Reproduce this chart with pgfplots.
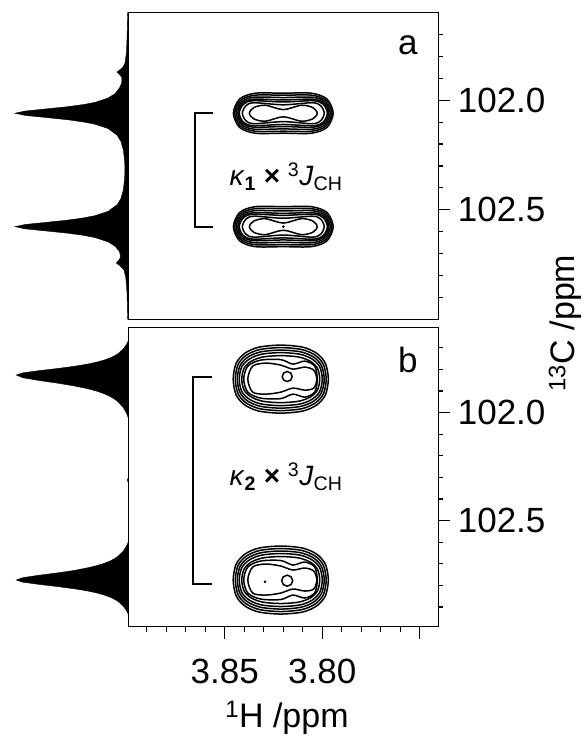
\documentclass[border=0pt]{standalone}
\usepackage{fontspec}
\setmainfont{Liberation Sans}
\usepackage{pgfplots}
\usepackage{pgfplotstable}
\pgfplotsset{compat=1.18}

\newcommand\tsz{\fontsize{35}{40}\selectfont}
\newcommand\lsz{\fontsize{34}{38}\selectfont}
\newcommand\asz{\fontsize{28}{32}\selectfont}

% ---------- 1D projections (intensity, ppm) ----------
\pgfplotstableread{
f y
0 101.6
0.006 101.60
0.010 101.70
0.016 101.78
0.029 101.83
0.048 101.85
0.075 101.861
0.100 101.871
0.081 101.881
0.058 101.895
0.056 101.915
0.073 101.94
0.117 101.97
0.180 101.99
0.291 102.009
0.390 102.019
0.532 102.029
0.719 102.039
0.911 102.049
1.000 102.059
0.911 102.069
0.719 102.079
0.532 102.089
0.395 102.099
0.296 102.109
0.178 102.129
0.099 102.159
0.064 102.189
0.043 102.229
0.032 102.28
0.030 102.318
0.0325 102.36
0.044 102.41
0.066 102.45
0.099 102.477
0.178 102.507
0.296 102.527
0.395 102.537
0.532 102.547
0.719 102.557
0.911 102.567
1.000 102.577
0.911 102.587
0.719 102.597
0.532 102.607
0.391 102.617
0.292 102.627
0.175 102.647
0.115 102.667
0.079 102.69
0.067 102.713
0.082 102.73
0.106 102.743
0.074 102.755
0.038 102.775
0.022 102.81
0.011 102.88
0.006 103.0
0 103.0
}\PRa

\pgfplotstableread{
f y
0 101.607
0 101.66
0.003 101.671
0.018 101.686
0.046 101.706
0.089 101.726
0.120 101.736
0.159 101.746
0.211 101.756
0.279 101.766
0.369 101.776
0.488 101.786
0.635 101.796
0.800 101.806
0.942 101.816
1.000 101.826
0.942 101.8385
0.800 101.851
0.635 101.8635
0.488 101.876
0.369 101.8885
0.279 101.901
0.211 101.9135
0.159 101.926
0.120 101.9385
0.089 101.951
0.046 101.976
0.018 102.001
0.003 102.020
0 102.03
0 102.30
0.008 102.312
0 102.325
0 102.59
0.003 102.603
0.018 102.619
0.046 102.642
0.089 102.664
0.120 102.675
0.159 102.686
0.211 102.697
0.279 102.708
0.369 102.719
0.488 102.731
0.635 102.742
0.800 102.753
0.942 102.764
1.000 102.775
0.942 102.785
0.800 102.795
0.635 102.805
0.488 102.815
0.369 102.825
0.279 102.835
0.211 102.845
0.159 102.855
0.120 102.865
0.089 102.875
0.046 102.895
0.018 102.915
0.003 102.93
0 102.94
0 102.991
}\PRb

% ---------- contour levels, panel a (offsets from peak centre, ppm) ----------
\pgfplotstableread{
dx dy
0.0256 0
0.0224 -0.0648
0.0144 -0.0913
0 -0.0913
-0.0144 -0.0913
-0.0224 -0.0648
-0.0256 0
-0.0224 0.0648
-0.0144 0.0913
0 0.0913
0.0144 0.0913
0.0224 0.0648
}\CAa
\pgfplotstableread{
dx dy
0.0249 0
0.0219 -0.0584
0.0146 -0.0822
0 -0.0822
-0.0146 -0.0822
-0.0219 -0.0584
-0.0249 0
-0.0219 0.0584
-0.0146 0.0822
0 0.0822
0.0146 0.0822
0.0219 0.0584
}\CAb
\pgfplotstableread{
dx dy
0.0241 0
0.0214 -0.0519
0.0149 -0.0731
0 -0.0716
-0.0149 -0.0731
-0.0214 -0.0519
-0.0241 0
-0.0214 0.0519
-0.0149 0.0731
0 0.0716
0.0149 0.0731
0.0214 0.0519
}\CAc
\pgfplotstableread{
dx dy
0.0233 0
0.0210 -0.0454
0.0151 -0.0639
0 -0.0607
-0.0151 -0.0639
-0.0210 -0.0454
-0.0233 0
-0.0210 0.0454
-0.0151 0.0639
0 0.0607
0.0151 0.0639
0.0210 0.0454
}\CAd
\pgfplotstableread{
dx dy
0.0226 0
0.0205 -0.0405
0.0154 -0.0571
0 -0.0514
-0.0154 -0.0571
-0.0205 -0.0405
-0.0226 0
-0.0205 0.0405
-0.0154 0.0571
0 0.0514
0.0154 0.0571
0.0205 0.0405
}\CAe
\pgfplotstableread{
dx dy
0.0210 0
0.0192 -0.0340
0.0149 -0.0479
0 -0.0384
-0.0149 -0.0479
-0.0192 -0.0340
-0.0210 0
-0.0192 0.0340
-0.0149 0.0479
0 0.0384
0.0149 0.0479
0.0192 0.0340
}\CAf
\pgfplotstableread{
dx dy
0.0174 0
0.0151 -0.0259
0.0092 -0.0365
0 -0.0164
-0.0092 -0.0365
-0.0151 -0.0259
-0.0174 0
-0.0151 0.0259
-0.0092 0.0365
0 0.0164
0.0092 0.0365
0.0151 0.0259
}\CAg

% ---------- contour levels, panel b ----------
\pgfplotstableread{
dx dy
0.0244 0
0.0229 0.0730
0.0185 0.1193
0.0113 0.1478
0 0.1574
-0.0113 0.1478
-0.0185 0.1193
-0.0229 0.0730
-0.0244 0
-0.0229 -0.0730
-0.0185 -0.1193
-0.0113 -0.1478
0 -0.1574
0.0113 -0.1478
0.0185 -0.1193
0.0229 -0.0730
}\CBa
\pgfplotstableread{
dx dy
0.0233 0
0.0219 0.0677
0.0177 0.1105
0.0108 0.1369
0 0.1458
-0.0108 0.1369
-0.0177 0.1105
-0.0219 0.0677
-0.0233 0
-0.0219 -0.0677
-0.0177 -0.1105
-0.0108 -0.1369
0 -0.1458
0.0108 -0.1369
0.0177 -0.1105
0.0219 -0.0677
}\CBb
\pgfplotstableread{
dx dy
0.0223 0
0.0209 0.0623
0.0169 0.1018
0.0103 0.1261
0 0.1343
-0.0103 0.1261
-0.0169 0.1018
-0.0209 0.0623
-0.0223 0
-0.0209 -0.0623
-0.0169 -0.1018
-0.0103 -0.1261
0 -0.1343
0.0103 -0.1261
0.0169 -0.1018
0.0209 -0.0623
}\CBc
\pgfplotstableread{
dx dy
0.0213 0
0.0200 0.0569
0.0161 0.0930
0.0099 0.1152
0 0.1227
-0.0099 0.1152
-0.0161 0.0930
-0.0200 0.0569
-0.0213 0
-0.0200 -0.0569
-0.0161 -0.0930
-0.0099 -0.1152
0 -0.1227
0.0099 -0.1152
0.0161 -0.0930
0.0200 -0.0569
}\CBd
\pgfplotstableread{
dx dy
0.0200 0
0.0188 0.0505
0.0152 0.0825
0.0093 0.1022
0 0.1088
-0.0093 0.1022
-0.0152 0.0825
-0.0188 0.0505
-0.0200 0
-0.0188 -0.0505
-0.0152 -0.0825
-0.0093 -0.1022
0 -0.1088
0.0093 -0.1022
0.0152 -0.0825
0.0188 -0.0505
}\CBe
\pgfplotstableread{
dx dy
-0.0187 0
-0.0174 -0.0602
-0.0123 -0.0833
-0.0062 -0.0695
0 -0.0903
0.0103 -0.0880
0.0169 -0.0602
0.0190 0
0.0169 0.0602
0.0103 0.0880
0 0.0903
-0.0062 0.0695
-0.0123 0.0833
-0.0174 0.0602
}\CBf
\pgfplotstableread{
dx dy
-0.0185 0
-0.0169 -0.0417
-0.0123 -0.0556
-0.0062 -0.0463
0 -0.0648
0.0077 -0.0741
0.0144 -0.0602
0.0169 0
0.0144 0.0602
0.0077 0.0695
0 0.0602
-0.0062 0.0417
-0.0123 0.0509
-0.0169 0.0417
}\CBg

\pgfplotsset{
  panel/.style={
    scale only axis, width=310pt,
    xmin=3.7405, xmax=3.8995, x dir=reverse, y dir=reverse,
    axis line style={line width=1.3pt},
    every tick/.style={black, line width=1.2pt},
    tick align=outside,
    major tick length=12pt, minor tick length=5pt,
    ytick pos=right, yticklabel pos=right,
    ytick={102.0,102.5}, yticklabels={102.0,102.5},
    minor ytick={101.7,101.8,101.9,102.1,102.2,102.3,102.4,102.6,102.7,102.8,102.9},
    ticklabel style={font=\tsz},
    yticklabel style={xshift=4pt},
    xticklabel style={yshift=-17pt},
  },
  cont/.style={black, line width=1.5pt, smooth cycle, mark=none},
  proj/.style={scale only axis, width=128.3pt, xmin=0, x dir=reverse, y dir=reverse, hide axis},
}

\newcommand\contA[2]{%
  \addplot[cont] table[x expr=\thisrow{dx}+#1, y expr=\thisrow{dy}+#2]{\CAa};
  \addplot[cont] table[x expr=\thisrow{dx}+#1, y expr=\thisrow{dy}+#2]{\CAb};
  \addplot[cont] table[x expr=\thisrow{dx}+#1, y expr=\thisrow{dy}+#2]{\CAc};
  \addplot[cont] table[x expr=\thisrow{dx}+#1, y expr=\thisrow{dy}+#2]{\CAd};
  \addplot[cont] table[x expr=\thisrow{dx}+#1, y expr=\thisrow{dy}+#2]{\CAe};
  \addplot[cont] table[x expr=\thisrow{dx}+#1, y expr=\thisrow{dy}+#2]{\CAf};
  \addplot[cont] table[x expr=\thisrow{dx}+#1, y expr=\thisrow{dy}+#2]{\CAg};
}
\newcommand\contB[2]{%
  \addplot[cont] table[x expr=\thisrow{dx}+#1, y expr=\thisrow{dy}+#2]{\CBa};
  \addplot[cont] table[x expr=\thisrow{dx}+#1, y expr=\thisrow{dy}+#2]{\CBb};
  \addplot[cont] table[x expr=\thisrow{dx}+#1, y expr=\thisrow{dy}+#2]{\CBc};
  \addplot[cont] table[x expr=\thisrow{dx}+#1, y expr=\thisrow{dy}+#2]{\CBd};
  \addplot[cont] table[x expr=\thisrow{dx}+#1, y expr=\thisrow{dy}+#2]{\CBe};
  \addplot[cont] table[x expr=\thisrow{dx}+#1, y expr=\thisrow{dy}+#2]{\CBf};
  \addplot[cont] table[x expr=\thisrow{dx}+#1, y expr=\thisrow{dy}+#2]{\CBg};
}

\begin{document}
\begin{tikzpicture}
\useasboundingbox (0pt,0pt) rectangle (586pt,736pt);

% ---- projections ----
\begin{axis}[proj, at={(0pt,416.7pt)}, anchor=south west, height=306.6pt,
  xmax=1.1324, ymin=101.6, ymax=103.0]
  \addplot[fill=black, draw=black, line width=0.4pt] table[x=f, y=y]{\PRa};
\end{axis}
\begin{axis}[proj, at={(0pt,109.3pt)}, anchor=south west, height=299pt,
  xmax=1.145, ymin=101.607, ymax=102.991]
  \addplot[fill=black, draw=black, line width=0.4pt] table[x=f, y=y]{\PRb};
\end{axis}

% ---- panel a ----
\begin{axis}[panel, at={(128.3pt,416.7pt)}, anchor=south west, height=306.6pt,
  ymin=101.6, ymax=103.0, xtick=\empty, minor xtick={}]
  \contA{3.8200}{102.059}
  \contA{3.8200}{102.577}
  \addplot[only marks, mark=*, mark size=1.1pt, black] coordinates {(3.8200,102.577)};
  \addplot[black, line width=2pt, sharp plot] coordinates
    {(3.8560,102.059) (3.8655,102.059) (3.8655,102.577) (3.8560,102.577)};
  \node[anchor=west, font=\asz] at (axis cs:3.8494,102.349)
    {\textit{κ}\textsubscript{\textbf{1}} \textbf{×} \textsuperscript{3}\textit{J}\textsubscript{CH}};
  \node[font=\tsz] at (axis cs:3.7561,101.747) {a};
\end{axis}

% ---- panel b ----
\begin{axis}[panel, at={(128.3pt,109.3pt)}, anchor=south west, height=299pt,
  ymin=101.607, ymax=102.991,
  xtick pos=left, xtick={3.75,3.80,3.85}, xticklabels={,3.80,3.85},
  minor xtick={3.76,3.77,3.78,3.79,3.81,3.82,3.83,3.84,3.86,3.87,3.88,3.89}]
  \contB{3.8213}{101.845}
  \contB{3.8213}{102.775}
  \addplot[only marks, mark=o, mark size=5pt, line width=1.5pt, black] coordinates {(3.8180,101.833)};
  \addplot[only marks, mark=o, mark size=5.5pt, line width=1.5pt, black] coordinates {(3.8180,102.778)};
  \addplot[only marks, mark=*, mark size=1.1pt, black] coordinates {(3.8294,102.783)};
  \addplot[black, line width=2pt, sharp plot] coordinates
    {(3.8567,101.833) (3.8662,101.833) (3.8662,102.793) (3.8567,102.793)};
  \node[anchor=west, font=\asz] at (axis cs:3.8494,102.298)
    {\textit{κ}\textsubscript{\textbf{2}} \textbf{×} \textsuperscript{3}\textit{J}\textsubscript{CH}};
  \node[font=\tsz] at (axis cs:3.7561,101.756) {b};
\end{axis}

% ---- axis titles ----
\node[font=\lsz, rotate=90] at (565pt,413pt) {\textsuperscript{13}C /ppm};
\node[font=\lsz, anchor=base] at (287pt,9pt) {\textsuperscript{1}H /ppm};
\end{tikzpicture}
\end{document}
